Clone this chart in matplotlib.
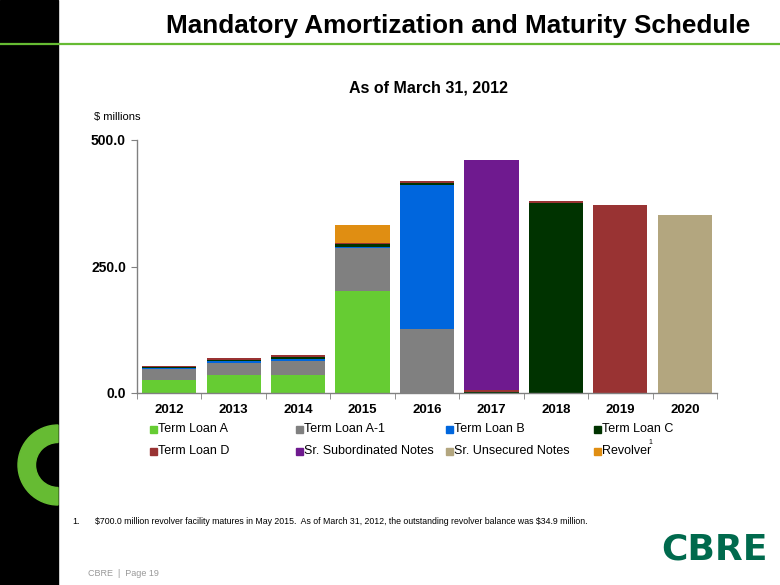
import numpy as np
import matplotlib
matplotlib.use("Agg")
import matplotlib.pyplot as plt
from matplotlib.patches import Rectangle, Wedge

plt.rcParams['font.family'] = ['Liberation Sans', 'DejaVu Sans']

years = ["2012", "2013", "2014", "2015", "2016", "2017", "2018", "2019", "2020"]
series_names = ["Term Loan A", "Term Loan A-1", "Term Loan B", "Term Loan C",
                "Term Loan D", "Sr. Subordinated Notes", "Sr. Unsecured Notes", "Revolver"]
term_loan_a = [26.0, 35.5, 35.5, 202.0, 0, 0, 0, 0, 0]
term_loan_a1 = [21.0, 23.5, 27.5, 84.0, 126.0, 0, 0, 0, 0]
term_loan_b = [2.5, 3.5, 3.5, 3.5, 285.0, 0, 0, 0, 0]
term_loan_c = [2.0, 3.5, 4.0, 4.0, 3.5, 2.0, 375.0, 0, 0]
term_loan_d = [2.5, 3.5, 4.0, 3.5, 4.0, 3.5, 4.5, 371.0, 0]
sr_sub_notes = [0, 0, 0, 0, 0, 454.0, 0, 0, 0]
sr_unsec_notes = [0, 0, 0, 0, 0, 0, 0, 0, 351.0]
revolver = [0, 0, 0, 34.9, 0, 0, 0, 0, 0]
colors = ["#66CC33", "#808080", "#0066DD", "#003300", "#993333", "#6F1A8F", "#B3A67F", "#E08E12"]

W, H = 780, 585
fig = plt.figure(figsize=(W / 100, H / 100), dpi=100)

def fx(x): return x / W
def fy(y): return 1 - y / H

# left band, ring and header line
fig.patches.append(Rectangle((0, 0), fx(58), 1, transform=fig.transFigure, color="black", zorder=0))
fig.patches.append(Wedge((0.58, (H - 465) / 100), 0.40, 90, 270, width=0.175,
                         transform=fig.dpi_scale_trans, color="#66BB33", zorder=1))
fig.lines.append(plt.Line2D([0, 1], [fy(43.5), fy(43.5)], transform=fig.transFigure,
                            color="#66BB33", lw=1.6, zorder=2))

fig.text(fx(750), fy(26), "Mandatory Amortization and Maturity Schedule", ha="right", va="center",
         fontsize=18.8, fontweight="bold")
fig.text(fx(428), fy(88), "As of March 31, 2012", ha="center", va="center", fontsize=11.5, fontweight="bold")
fig.text(fx(94), fy(117), "$ millions", ha="left", va="center", fontsize=8)

ax = fig.add_axes([fx(137), fy(393), fx(717) - fx(137), (393 - 140) / H])
x = np.arange(len(years))
bottom = np.zeros(len(years))
all_series = [term_loan_a, term_loan_a1, term_loan_b, term_loan_c, term_loan_d,
              sr_sub_notes, sr_unsec_notes, revolver]
for vals, c, name in zip(all_series, colors, series_names):
    vals = np.array(vals, dtype=float)
    ax.bar(x, vals, width=0.84, bottom=bottom, color=c, label=name, linewidth=0)
    bottom += vals

ax.set_xlim(-0.5, len(years) - 0.5)
ax.set_ylim(0, 500)
ax.set_yticks([0, 250, 500])
ax.set_yticklabels(["0.0", "250.0", "500.0"], fontsize=10, fontweight="bold")
ax.set_xticks(x)
ax.set_xticklabels(years, fontsize=9.5, fontweight="bold")
ax.tick_params(axis="x", length=0, pad=8)
ax.set_xticks(np.arange(-0.5, len(years)), minor=True)
ax.tick_params(axis="x", which="minor", length=4, color="#808080", direction="out")
ax.tick_params(axis="y", length=4, color="#808080", direction="out", pad=4)
for s in ["top", "right"]:
    ax.spines[s].set_visible(False)
for s in ["left", "bottom"]:
    ax.spines[s].set_color("#808080")
    ax.spines[s].set_linewidth(1.0)

# legend, 4 columns x 2 rows
col_x = [153, 299, 449, 597]
row_y = [429, 451]
for i, (name, c) in enumerate(zip(series_names, colors)):
    lx, ly = col_x[i % 4], row_y[i // 4]
    fig.patches.append(Rectangle((fx(lx - 3.5), fy(ly + 3.5)), 7 / W, 7 / H, transform=fig.transFigure,
                                 color=c, zorder=3))
    fig.text(fx(lx + 5), fy(ly), name, ha="left", va="center", fontsize=9)
fig.text(fx(648), fy(443), "1", ha="left", va="center", fontsize=5)

fig.text(fx(72), fy(522), "1.", ha="left", va="center", fontsize=6.3)
fig.text(fx(95), fy(522), "\\$700.0 million revolver facility matures in May 2015.  As of March 31, 2012, "
         "the outstanding revolver balance was \\$34.9 million.", ha="left", va="center", fontsize=6.3)
fig.text(fx(88), fy(573), "CBRE  |  Page 19", ha="left", va="center", fontsize=6.5, color="#999999")
fig.text(fx(768), fy(550), "CBRE", ha="right", va="center", fontsize=26, fontweight="bold",
         color="#006A4D", family=["DejaVu Sans"])

fig.savefig("out.png", dpi=100)
